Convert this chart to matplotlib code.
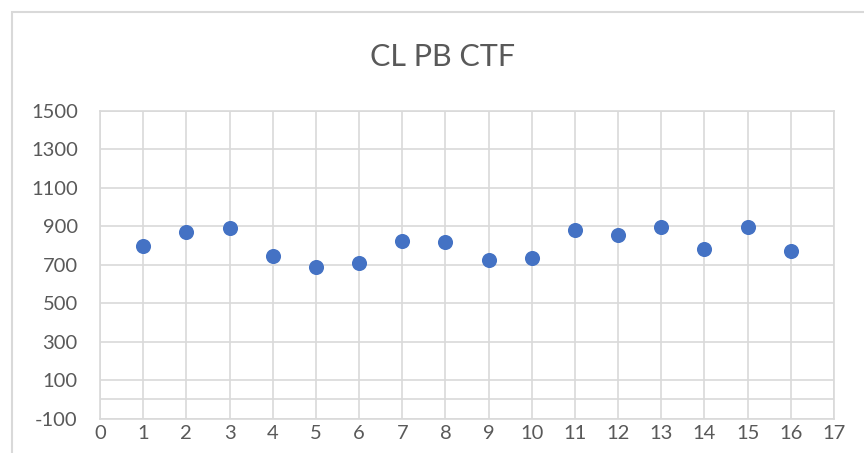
import matplotlib
matplotlib.use("Agg")
import matplotlib.pyplot as plt
from matplotlib.patches import Rectangle

# Sample index and CTF values
samples = list(range(1, 17))
ctf = [797, 870, 891, 745, 686, 707, 824, 819, 727, 733, 883, 857, 898, 782, 898, 772]

x_ticks = list(range(0, 18))
y_ticks = list(range(-100, 1501, 200))

plt.rcParams['font.family'] = ['Lato', 'DejaVu Sans']
plt.rcParams['axes.unicode_minus'] = False

W, H = 864, 453
fig = plt.figure(figsize=(W / 100, H / 100), dpi=100)

# chart frame
fig.patches.append(Rectangle((12 / W, -0.1), 2, 1 - 12 / H + 0.1,
                             transform=fig.transFigure, fill=False,
                             edgecolor='#D9D9D9', linewidth=1.5))

left, right, top, bottom = 100, 834, 111, 418.5
ax = fig.add_axes([left / W, 1 - bottom / H, (right - left) / W, (bottom - top) / H])

ax.scatter(samples, ctf, s=118, color='#4472C4', zorder=3, linewidths=0)

ax.set_xlim(0, 17)
ax.set_ylim(-100, 1500)
ax.set_xticks(x_ticks)
ax.set_yticks(y_ticks)
ax.grid(True, color='#D9D9D9', linewidth=1.2, zorder=0)
ax.axhline(0, color='#D9D9D9', linewidth=1.2, zorder=1)
for side in ['top', 'right', 'bottom', 'left']:
    ax.spines[side].set_color('#D9D9D9')
    ax.spines[side].set_linewidth(1.2)
ax.tick_params(length=0, labelsize=14.5, colors='#595959')
ax.tick_params(axis='y', pad=16)
ax.tick_params(axis='x', pad=5)

fig.text(442 / W, 1 - 57 / H, 'CL PB CTF', ha='center', va='center',
         fontsize=22, color='#595959')

fig.savefig('out.png', dpi=100)
